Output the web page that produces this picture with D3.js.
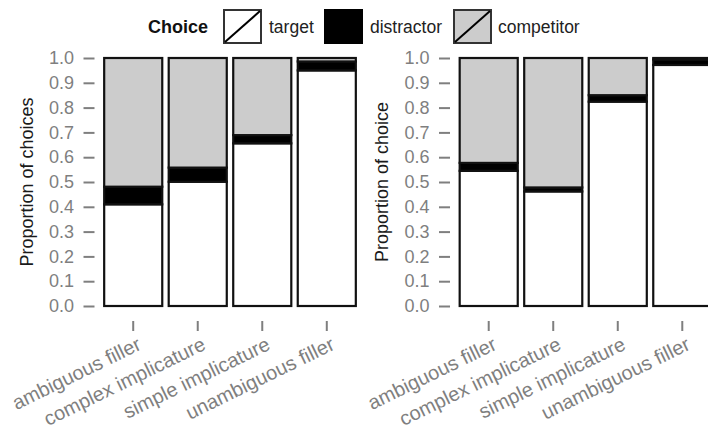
<!DOCTYPE html>
<html>
<head>
<meta charset="utf-8">
<script src="https://cdn.jsdelivr.net/npm/d3@7"></script>
<style>
  html, body { margin: 0; padding: 0; background: #fff; }
  svg { display: block; font-family: "Liberation Sans", Arial, Helvetica, sans-serif; }
</style>
</head>
<body>
<svg id="chart" width="708" height="432"></svg>
<script>
// Item types on the x axis (same for both panels)
const conditions = ["ambiguous filler", "complex implicature", "simple implicature", "unambiguous filler"];
const choices = ["target", "distractor", "competitor"];
const choiceFill = { target: "#ffffff", distractor: "#000000", competitor: "#cccccc" };
const yTicks = [0, 0.1, 0.2, 0.3, 0.4, 0.5, 0.6, 0.7, 0.8, 0.9, 1.0];

// Left panel: proportion of choices
const leftTarget     = [0.410, 0.501, 0.656, 0.950];
const leftDistractor = [0.071, 0.057, 0.033, 0.036];
const leftCompetitor = [0.519, 0.442, 0.311, 0.014];

// Right panel: proportion of choice
const rightTarget     = [0.545, 0.462, 0.824, 0.972];
const rightDistractor = [0.032, 0.016, 0.026, 0.022];
const rightCompetitor = [0.423, 0.522, 0.150, 0.006];

const svg = d3.select("#chart");
const tickGrey = "#7f7f7f";

const y = d3.scaleLinear().domain([0, 1]).range([306, 58]);

function panel(x0, x1, yTitle, titleX, target, distractor, competitor) {
  const rows = conditions.map((c, i) => ({
    condition: c, target: target[i], distractor: distractor[i], competitor: competitor[i]
  }));
  const x = d3.scaleBand().domain(conditions).range([x0, x1])
    .paddingInner(0.1).paddingOuter(0.15);
  const stacked = d3.stack().keys(choices)(rows);

  const g = svg.append("g");

  // stacked bars
  g.selectAll("g.layer").data(stacked).join("g")
    .attr("class", "layer")
    .attr("fill", d => choiceFill[d.key])
    .selectAll("rect").data(d => d).join("rect")
    .attr("x", d => x(d.data.condition))
    .attr("width", x.bandwidth())
    .attr("y", d => y(d[1]))
    .attr("height", d => y(d[0]) - y(d[1]))
    .attr("stroke", "#111")
    .attr("stroke-width", 2.2);

  // y axis (ticks + labels, no domain line)
  const ya = g.append("g")
    .attr("transform", `translate(${x0},0)`)
    .call(d3.axisLeft(y).tickValues(yTicks).tickFormat(d3.format(".1f")).tickSize(11).tickPadding(9.5));
  ya.select(".domain").remove();
  ya.selectAll(".tick line").attr("stroke", tickGrey).attr("stroke-width", 2);
  ya.selectAll(".tick text").attr("fill", tickGrey).attr("font-size", 18);

  // x axis (ticks + slanted labels, no domain line)
  const xa = g.append("g")
    .attr("transform", "translate(0,321)")
    .call(d3.axisBottom(x).tickSize(10).tickSizeOuter(0));
  xa.select(".domain").remove();
  xa.selectAll(".tick line").attr("stroke", tickGrey).attr("stroke-width", 2);
  xa.selectAll(".tick text")
    .attr("fill", tickGrey)
    .attr("font-size", 20)
    .attr("text-anchor", "end")
    .attr("y", 0)
    .attr("dy", "0.71em")
    .attr("transform", "translate(3,15) rotate(-26)");

  // y axis title
  g.append("text")
    .attr("transform", `translate(${titleX},${(y(0) + y(1)) / 2}) rotate(-90)`)
    .attr("text-anchor", "middle")
    .attr("font-size", 18)
    .attr("fill", "#1a1a1a")
    .text(yTitle);
}

panel(94.5, 365.5, "Proportion of choices", 33, leftTarget, leftDistractor, leftCompetitor);
panel(450, 721, "Proportion of choice", 388, rightTarget, rightDistractor, rightCompetitor);

// legend
const legend = svg.append("g");
legend.append("text")
  .attr("x", 148).attr("y", 33)
  .attr("font-size", 18).attr("font-weight", "bold").attr("fill", "#111")
  .text("Choice");

const keyX = [224, 325, 454];
const labelX = [269, 370, 498];
choices.forEach((k, i) => {
  const kg = legend.append("g").attr("transform", `translate(${keyX[i]},10)`);
  kg.append("rect").attr("x", 0).attr("y", 0).attr("width", 37).attr("height", 33)
    .attr("fill", choiceFill[k])
    .attr("stroke", k === "distractor" ? "#000" : "#333").attr("stroke-width", 2);
  kg.append("line").attr("x1", 1).attr("y1", 32).attr("x2", 36).attr("y2", 1)
    .attr("stroke", "#000").attr("stroke-width", 2);
  legend.append("text")
    .attr("x", labelX[i]).attr("y", 33)
    .attr("font-size", 17.5).attr("fill", "#222")
    .text(k);
});
</script>
</body>
</html>
